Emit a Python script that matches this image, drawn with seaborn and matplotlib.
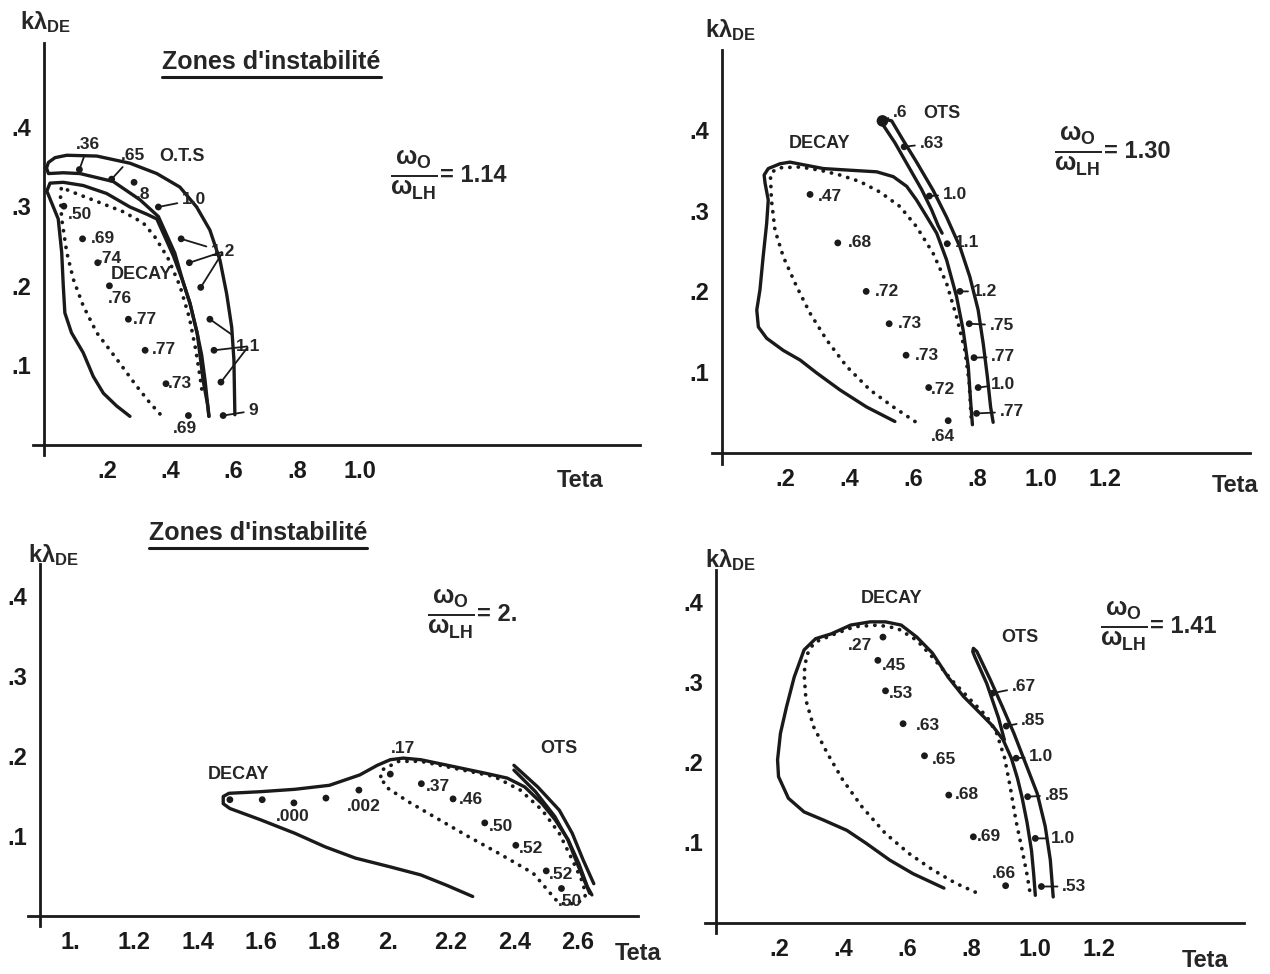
import numpy as np
import pandas as pd
import matplotlib.pyplot as plt
from matplotlib.lines import Line2D
import seaborn as sns

# ---------------- panel 1 : w0/wLH = 1.14 ----------------
p1_ots_T = [.522, .518, .504, .485, .462, .440, .414, .362, .304, .219, .114, .061, .014, .008, .014, .035, .072,
            .167, .272, .357, .430, .483, .525, .557, .578, .594, .601, .604]
p1_ots_k = [.036, .050, .080, .140, .178, .205, .241, .287, .308, .331, .341, .342, .341, .348, .355, .361, .364,
            .363, .354, .341, .324, .299, .270, .232, .190, .148, .107, .038]
p1_decay_T = [.272, .230, .188, .156, .124, .087, .066, .061, .056, .045, .009, .019, .061, .124, .198, .272, .325,
              .357, .409, .440, .462, .485, .499, .510, .518, .522]
p1_decay_k = [.036, .049, .065, .086, .116, .141, .166, .200, .242, .284, .319, .329, .330, .326, .316, .299, .290,
              .284, .238, .205, .178, .140, .113, .080, .050, .036]
p1_dot_T = [.367, .335, .293, .230, .167, .124, .093, .072, .056, .052, .055, .082, .167, .251, .314, .350, .392,
            .430, .460, .480, .494, .500]
p1_dot_k = [.039, .053, .074, .108, .141, .175, .208, .242, .284, .310, .324, .319, .306, .293, .279, .262, .235,
            .200, .160, .120, .085, .068]
p1_pt_T = [.112, .214, .285, .362, .434, .460, .496, .525, .538, .560, .567, .063, .122, .170, .207, .267, .320, .386, .457]
p1_pt_k = [.346, .334, .330, .299, .259, .229, .198, .158, .119, .079, .037, .300, .259, .229, .200, .158, .119, .077, .037]
p1_lab = ['.36', '.65', '.8', '1.0', '1.2', '', '', '1.1', '', '', '9', '.50', '.69', '.74', '.76', '.77', '.77', '.73', '.69']
p1_lab_T = [.140, .283, .314, .475, .567, .567, .567, .647, .647, .647, .662, .114, .188, .209, .241, .320, .378, .430, .446]
p1_lab_k = [.377, .364, .315, .308, .243, .243, .243, .124, .124, .124, .043, .289, .260, .234, .184, .158, .120, .077, .021]
p1_lead = [1, 1, 0, 1, 1, 1, 1, 1, 1, 1, 1, 0, 0, 0, 0, 0, 0, 0, 0]

# ---------------- panel 2 : w0/wLH = 1.30 ----------------
p2_ots_T = [.690, .678, .657, .626, .584, .542, .505, .498, .503, .532, .568, .610, .662, .704, .746, .777, .803,
            .819, .832, .842, .850]
p2_ots_k = [.272, .281, .301, .326, .355, .384, .406, .411, .414, .411, .387, .360, .325, .292, .255, .218, .177,
            .135, .094, .057, .038]
p2_decay_T = [.542, .453, .370, .297, .245, .192, .140, .114, .109, .119, .129, .140, .145, .135, .132, .145, .182,
              .213, .265, .318, .401, .485, .537, .579, .610, .641, .673, .704, .735, .756, .772, .779, .785]
p2_decay_k = [.039, .057, .078, .099, .115, .127, .142, .156, .177, .202, .243, .284, .313, .334, .344, .352, .358,
              .360, .356, .352, .350, .348, .342, .330, .313, .293, .272, .239, .194, .152, .107, .066, .035]
p2_dot_T = [.605, .537, .464, .391, .328, .276, .234, .192, .166, .155, .152, .157, .182, .245, .307, .370, .432,
            .495, .558, .610, .662, .704, .735, .761, .775, .782]
p2_dot_k = [.039, .057, .078, .107, .140, .173, .206, .243, .276, .313, .342, .348, .353, .354, .350, .344, .336,
            .323, .305, .280, .247, .210, .169, .128, .087, .037]
p2_pt_T = [.276, .363, .452, .524, .577, .648, .709, .571, .650, .706, .746, .775, .790, .803, .798]
p2_pt_k = [.320, .260, .200, .160, .121, .081, .040, .379, .318, .259, .200, .160, .118, .081, .049]
p2_lab = ['.47', '.68', '.72', '.73', '.73', '.72', '.64', '.63', '1.0', '1.1', '1.2', '.75', '.77', '1.0', '.77']
p2_lab_T = [.339, .432, .516, .589, .642, .694, .692, .657, .730, .767, .824, .877, .882, .882, .908]
p2_lab_k = [.317, .260, .200, .160, .121, .078, .020, .383, .320, .260, .200, .158, .119, .085, .051]
p2_lead = [0, 0, 0, 0, 0, 0, 0, 1, 1, 1, 1, 1, 1, 1, 1]
p2_tip_T, p2_tip_k = [.503], [.411]

# ---------------- panel 3 : w0/wLH = 2. ----------------
p3_decay_T = [2.268, 2.186, 2.104, 2.008, 1.898, 1.803, 1.707, 1.598, 1.502, 1.481, 1.481, 1.499, 1.598, 1.707,
              1.816, 1.912, 1.967, 2.008, 2.049, 2.104, 2.213, 2.309, 2.377, 2.432, 2.487, 2.528, 2.569, 2.603,
              2.630, 2.644]
p3_decay_k = [.024, .038, .051, .061, .072, .086, .103, .120, .134, .140, .149, .153, .155, .158, .163, .176, .188,
              .195, .197, .195, .186, .178, .172, .161, .140, .120, .095, .065, .036, .026]
p3_dot_T = [1.978, 1.981, 2.035, 2.104, 2.213, 2.336, 2.418, 2.487, 2.541, 2.582, 2.617, 2.623, 2.600, 2.560,
            2.530, 2.500, 2.459, 2.350, 2.254, 2.145, 2.063, 1.994, 1.978]
p3_dot_k = [.174, .182, .193, .193, .184, .174, .157, .132, .103, .070, .040, .024, .016, .014, .020, .034, .053,
            .078, .099, .124, .143, .161, .174]
p3_ots1_T = [2.398, 2.473, 2.541, 2.582, 2.616, 2.650]
p3_ots1_k = [.188, .161, .132, .103, .070, .040]
p3_ots2_T = [2.398, 2.466, 2.527, 2.568, 2.602, 2.637]
p3_ots2_k = [.182, .155, .124, .095, .061, .028]
p3_pt_T = [1.502, 1.604, 1.704, 1.805, 1.909, 2.008, 2.106, 2.206, 2.306, 2.404, 2.500, 2.548]
p3_pt_k = [.145, .145, .141, .147, .157, .177, .165, .146, .116, .088, .056, .034]
p3_lab = ['', '', '.000', '', '.002', '.17', '.37', '.46', '.50', '.52', '.52', '.50']
p3_lab_T = [0, 0, 1.700, 0, 1.926, 2.049, 2.158, 2.261, 2.357, 2.452, 2.548, 2.575]
p3_lab_k = [0, 0, .124, 0, .137, .209, .161, .145, .111, .084, .051, .0175]

# ---------------- panel 4 : w0/wLH = 1.41 ----------------
p4_decay_T = [.715, .618, .545, .471, .411, .337, .277, .228, .197, .194, .203, .222, .246, .277, .313, .362, .423,
              .484, .532, .581, .630, .679, .728, .776, .826, .868, .900, .926, .945, .959, .975, .989, .996, 1.001]
p4_decay_k = [.043, .061, .078, .099, .115, .128, .138, .155, .182, .203, .236, .269, .306, .340, .354, .360, .371,
              .375, .375, .371, .356, .336, .306, .282, .262, .245, .228, .205, .180, .157, .125, .090, .060, .034]
p4_dot_T = [.813, .752, .679, .606, .532, .459, .398, .350, .307, .283, .277, .285, .300, .313, .374, .435, .508,
            .569, .630, .679, .740, .800, .849, .880, .905, .922, .940, .960, .975, .985]
p4_dot_k = [.038, .049, .066, .086, .111, .144, .178, .211, .244, .277, .311, .333, .344, .350, .360, .369, .371,
            .367, .352, .331, .302, .277, .257, .236, .205, .170, .128, .090, .060, .036]
p4_ots_T = [.904, .886, .849, .812, .805, .807, .818, .861, .898, .934, .971, 1.007, 1.032, 1.048, 1.057]
p4_ots_k = [.228, .255, .298, .331, .338, .342, .338, .302, .269, .236, .198, .161, .120, .078, .032]
p4_pt_T = [.524, .508, .532, .587, .654, .730, .807, .908, .867, .910, .941, .977, 1.001, 1.020]
p4_pt_k = [.356, .327, .289, .248, .208, .159, .107, .046, .286, .245, .205, .157, .105, .045]
p4_lab = ['.27', '.45', '.53', '.63', '.65', '.68', '.69', '.66', '.67', '.85', '1.0', '.85', '1.0', '.53']
p4_lab_T = [.453, .557, .582, .666, .715, .788, .855, .904, .965, .995, 1.020, 1.068, 1.087, 1.123]
p4_lab_k = [.346, .321, .286, .246, .203, .160, .107, .061, .294, .252, .207, .159, .105, .045]
p4_lead = [0, 0, 0, 0, 0, 0, 0, 0, 1, 1, 1, 1, 1, 1]

# ticks
k_ticks = [.1, .2, .3, .4]
k_labels = ['.1', '.2', '.3', '.4']
t1_ticks = [.2, .4, .6, .8, 1.0]
t1_labels = ['.2', '.4', '.6', '.8', '1.0']
t2_ticks = [.2, .4, .6, .8, 1.0, 1.2]
t2_labels = ['.2', '.4', '.6', '.8', '1.0', '1.2']
t3_ticks = [1.0, 1.2, 1.4, 1.6, 1.8, 2.0, 2.2, 2.4, 2.6]
t3_labels = ['1.', '1.2', '1.4', '1.6', '1.8', '2.', '2.2', '2.4', '2.6']

# ---------------- style ----------------
sns.set_theme(style='white')
plt.rcParams['font.family'] = ['Liberation Sans', 'DejaVu Sans']
plt.rcParams['font.weight'] = 'bold'
plt.rcParams['mathtext.fontset'] = 'custom'
plt.rcParams['mathtext.rm'] = 'Liberation Sans:bold'
plt.rcParams['mathtext.it'] = 'Liberation Sans:bold'
plt.rcParams['mathtext.bf'] = 'Liberation Sans:bold'

W, H = 1270, 974
fig = plt.figure(figsize=(W / 100, H / 100), dpi=100)
fig.patch.set_facecolor('white')


def make_axes(x0, y0, sx, sy, tlim, klim, tspine, xt, xl):
    # x0,y0 = pixel of (Teta=0, k=0); sx,sy = pixels per unit
    left = x0 + tlim[0] * sx
    right = x0 + tlim[1] * sx
    bot = y0 - klim[0] * sy
    top = y0 - klim[1] * sy
    ax = fig.add_axes([left / W, 1 - bot / H, (right - left) / W, (bot - top) / H])
    ax.set_xlim(*tlim)
    ax.set_ylim(*klim)
    ax.patch.set_alpha(0)
    for s in ['top', 'right']:
        ax.spines[s].set_visible(False)
    ax.spines['left'].set_position(('data', tspine))
    ax.spines['bottom'].set_position(('data', 0))
    for s in ['left', 'bottom']:
        ax.spines[s].set_linewidth(2.0)
        ax.spines[s].set_color('k')
    ax.tick_params(direction='out', length=8, width=2, colors='k', labelsize=17, pad=3)
    ax.tick_params(axis='y', pad=1)
    ax.set_xticks(xt, xl)
    ax.set_yticks(k_ticks, k_labels)
    return ax


def curve(ax, T, k, dotted=False):
    df = pd.DataFrame({'T': T, 'k': k})
    if dotted:
        sns.lineplot(data=df, x='T', y='k', sort=False, estimator=None, ax=ax, color='k',
                     lw=2.7, linestyle=(0, (0.05, 2.2)), dash_capstyle='round')
    else:
        sns.lineplot(data=df, x='T', y='k', sort=False, estimator=None, ax=ax, color='k',
                     lw=2.4, solid_capstyle='round', solid_joinstyle='round')


def points(ax, T, k, labels, lT, lk, lead=None):
    sns.scatterplot(x=T, y=k, ax=ax, color='k', s=24, edgecolor='none', zorder=3)
    for i in range(len(T)):
        if lead is not None and lead[i]:
            ax.annotate(labels[i], xy=(T[i], k[i]), xytext=(lT[i], lk[i]), ha='center', va='center',
                        fontsize=12.5, fontweight='bold',
                        arrowprops=dict(arrowstyle='-', color='k', lw=1.3, shrinkA=1, shrinkB=2))
        elif labels[i]:
            ax.text(lT[i], lk[i], labels[i], ha='center', va='center', fontsize=12.5, fontweight='bold')


def decorate(ax, ylabT, ylabk, ratio, rT, rk, tetaT, tetak):
    ax.text(ylabT, ylabk, r'k$\lambda_{\mathbf{DE}}$', fontsize=17, ha='left', va='center', clip_on=False)
    frac = ax.text(rT, rk, r'$\frac{\omega_{O}}{\omega_{LH}}$', fontsize=26, ha='left', va='center')
    ax.annotate('= ' + ratio, xy=(1, 0.5), xycoords=frac, xytext=(2, 0), textcoords='offset points',
                fontsize=17, ha='left', va='center')
    ax.text(tetaT, tetak, 'Teta', fontsize=17, ha='center', va='center', clip_on=False)
    ax.set_xlabel('')
    ax.set_ylabel('')


titles = []

# panel 1
ax1 = make_axes(44, 445, 316, 796, (-0.035, 1.886), (-0.013, 0.505), 0, t1_ticks, t1_labels)
curve(ax1, p1_ots_T, p1_ots_k)
curve(ax1, p1_decay_T, p1_decay_k)
curve(ax1, p1_dot_T, p1_dot_k, dotted=True)
points(ax1, p1_pt_T, p1_pt_k, p1_lab, p1_lab_T, p1_lab_k, p1_lead)
ax1.text(.436, .362, 'O.T.S', fontsize=13, ha='center', va='center')
ax1.text(.309, .214, 'DECAY', fontsize=13, ha='center', va='center')
decorate(ax1, -0.075, 0.531, '1.14', 1.095, 0.338, 1.696, -0.044)
titles.append(ax1.text(0.72, 0.481, "Zones d'instabilité", fontsize=18, ha='center', va='center'))

# panel 2
ax2 = make_axes(722, 453, 319, 808, (-0.031, 1.655), (-0.013, 0.499), 0, t2_ticks, t2_labels)
curve(ax2, p2_ots_T, p2_ots_k)
curve(ax2, p2_decay_T, p2_decay_k)
curve(ax2, p2_dot_T, p2_dot_k, dotted=True)
sns.scatterplot(x=p2_tip_T, y=p2_tip_k, ax=ax2, color='k', s=70, edgecolor='none', zorder=3)
ax2.annotate('.6', xy=(p2_tip_T[0], p2_tip_k[0]), xytext=(.558, .422), ha='center', va='center', fontsize=12.5,
             arrowprops=dict(arrowstyle='-', color='k', lw=1.3, shrinkA=1, shrinkB=2))
points(ax2, p2_pt_T, p2_pt_k, p2_lab, p2_lab_T, p2_lab_k, p2_lead)
ax2.text(.689, .420, 'OTS', fontsize=13, ha='center', va='center')
ax2.text(.307, .383, 'DECAY', fontsize=13, ha='center', va='center')
decorate(ax2, -0.053, 0.524, '1.30', 1.04, 0.373, 1.608, -0.040)

# panel 3
ax3 = make_axes(40 - 0.903 * 317, 915.7, 317, 800, (0.866, 2.788), (-0.013, 0.44), 0.903, t3_ticks, t3_labels)
curve(ax3, p3_decay_T, p3_decay_k)
curve(ax3, p3_dot_T, p3_dot_k, dotted=True)
curve(ax3, p3_ots1_T, p3_ots1_k)
curve(ax3, p3_ots2_T, p3_ots2_k)
points(ax3, p3_pt_T, p3_pt_k, p3_lab, p3_lab_T, p3_lab_k)
ax3.text(2.541, .209, 'OTS', fontsize=13, ha='center', va='center')
ax3.text(1.529, .176, 'DECAY', fontsize=13, ha='center', va='center')
decorate(ax3, 0.865, 0.451, '2.', 2.124, 0.376, 2.79, -0.047)
titles.append(ax3.text(1.591, 0.478, "Zones d'instabilité", fontsize=18, ha='center', va='center'))

# panel 4
ax4 = make_axes(715.6, 922.6, 319.4, 802, (-0.034, 1.653), (-0.013, 0.44), 0, t2_ticks, t2_labels)
curve(ax4, p4_decay_T, p4_decay_k)
curve(ax4, p4_dot_T, p4_dot_k, dotted=True)
curve(ax4, p4_ots_T, p4_ots_k)
points(ax4, p4_pt_T, p4_pt_k, p4_lab, p4_lab_T, p4_lab_k, p4_lead)
ax4.text(.953, .356, 'OTS', fontsize=13, ha='center', va='center')
ax4.text(.551, .404, 'DECAY', fontsize=13, ha='center', va='center')
decorate(ax4, -0.034, 0.452, '1.41', 1.203, 0.369, 1.532, -0.047)

# underline the titles
fig.canvas.draw()
for t in titles:
    bb = t.get_window_extent()
    y = (bb.y0 - 3) / H
    fig.add_artist(Line2D([bb.x0 / W, bb.x1 / W], [y, y], color='k', lw=2.2, transform=fig.transFigure))

fig.savefig('out.png', dpi=100, facecolor='white')
